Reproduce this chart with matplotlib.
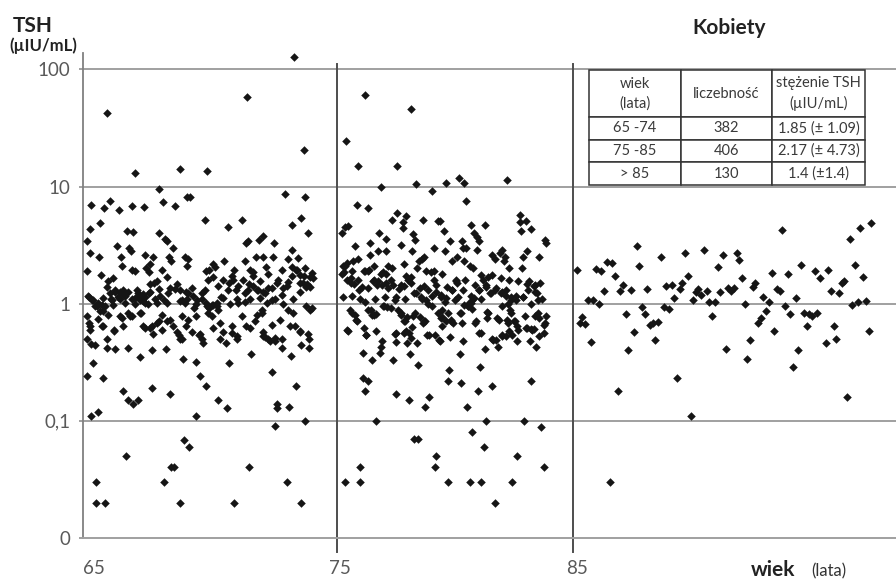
import matplotlib
matplotlib.use("Agg")
import matplotlib.pyplot as plt
from matplotlib.ticker import NullLocator, FixedLocator

plt.rcParams['font.family'] = ['Lato', 'DejaVu Sans']

# ---------------- data: group 65-74 ----------------
age_65_74 = [
    65.24, 71.20, 73.18, 73.60, 66.45, 68.35, 69.48,
    67.47, 64.56, 65.13, 65.38, 65.78, 66.30, 66.82, 67.61, 68.14, 68.63,
    68.77, 72.80, 73.63, 69.41, 70.99, 70.37, 73.08, 73.46, 73.76, 64.96,
    64.53, 64.42, 64.53, 64.92, 66.09, 66.37, 67.46, 67.71, 67.78, 65.69,
    66.20, 66.26, 66.86, 67.19, 67.10, 67.90, 68.07, 67.95, 65.83, 65.88,
    66.30, 66.44, 66.93, 67.05, 67.57, 67.81, 67.39, 68.56, 68.71, 68.66,
    69.44, 69.76, 69.83, 69.59, 70.23, 70.64, 71.13, 71.24, 71.71, 71.85,
    72.33, 73.11, 72.94, 72.66, 72.30, 71.85, 71.57, 71.10, 71.31, 71.45,
    71.99, 72.09, 73.08, 73.36, 73.26, 73.43, 73.64, 73.86, 74.00, 73.71,
    64.42, 64.99, 65.31, 65.52, 65.24, 65.59, 65.95, 66.16, 66.51, 66.79,
    66.86, 67.08, 67.46, 68.21, 68.35, 68.60, 68.84, 68.91, 69.41, 69.52,
    69.76, 69.97, 70.18, 70.40, 70.61, 70.82, 71.03, 71.24, 71.45, 71.67,
    71.88, 72.23, 72.51, 72.72, 72.94, 73.43, 73.57, 73.86, 64.46, 64.67,
    64.82, 65.03, 65.10, 65.41, 65.52, 65.80, 66.02, 66.30, 66.44, 66.62,
    66.79, 67.01, 67.29, 67.50, 67.78, 68.35, 68.63, 69.05, 69.27, 69.48,
    69.69, 69.90, 70.18, 70.47, 70.75, 71.10, 71.31, 71.74, 72.02, 72.37,
    72.72, 73.15, 73.71, 73.93,
    64.42, 64.53, 64.89, 65.10, 64.42, 64.60, 64.75, 65.24, 65.27, 65.56,
    65.59, 65.80, 65.95, 66.23, 66.16, 66.65, 66.77, 67.15, 67.19, 67.36,
    67.57, 67.75, 67.92, 68.07, 68.21, 68.35, 68.60, 68.70, 68.84, 69.05,
    69.22, 69.34, 69.55, 69.76, 69.90, 70.04, 70.18, 70.32, 70.54, 70.75,
    71.00, 71.17, 71.31, 71.60, 71.81, 71.88, 71.95, 72.16, 72.37, 72.23,
    72.58, 72.66, 73.01, 73.04, 73.15, 73.43, 73.50, 73.79, 73.83, 64.67,
    64.42, 65.07, 66.65, 67.15, 68.46, 69.05, 69.19, 69.45, 70.42, 71.38,
    72.23, 73.26, 65.92, 67.15, 67.92, 66.16, 66.58, 69.97,
    66.37, 70.35, 69.05, 64.59, 64.87, 72.46, 72.46, 72.98, 72.38, 73.66,
    66.06, 68.52, 68.73, 67.95, 68.09, 67.67, 71.28, 72.89, 64.79, 64.79,
    65.18, 68.36, 70.66, 73.49,
    64.48, 64.62, 64.76, 64.87, 64.97, 65.07, 65.18, 65.30, 65.40, 65.47,
    65.61, 65.72, 65.82, 65.96, 66.03, 66.14, 66.45, 66.57, 66.67, 66.77,
    66.88, 66.71, 67.02, 67.09, 67.23, 67.37, 67.47, 67.66, 67.84, 67.94,
    68.15, 68.43, 68.57, 68.71, 68.93, 69.07, 69.28, 69.45, 69.56, 69.77,
    69.96, 70.10, 70.41, 70.55, 70.72, 70.83, 71.09, 71.26, 71.43, 71.61,
    71.75, 71.94, 72.10, 72.25, 72.46, 72.67, 72.88, 73.09, 73.31, 73.45,
    73.59, 73.73, 73.94, 64.48, 64.55, 65.04, 65.54, 65.89, 66.88, 67.09,
    67.58, 67.80, 68.29, 68.43, 69.14, 69.28, 70.06, 70.55, 70.76, 71.54,
    71.89, 72.10, 72.39, 72.67, 73.23, 73.45, 73.80, 73.87, 72.95, 71.82,
    69.70, 68.43, 66.31,
]
tsh_65_74 = [
    42.8, 57.8, 128, 20.6, 13.0, 14.1, 13.7,
    9.6, 7.0, 6.5, 7.6, 6.3, 6.8, 6.7, 7.4, 6.8, 8.2,
    8.2, 8.6, 8.2, 5.2, 5.2, 4.5, 4.7, 5.4, 4.0, 4.9,
    4.3, 3.4, 2.7, 2.5, 4.2, 4.1, 4.0, 3.6, 3.4, 3.1,
    3.0, 2.8, 2.6, 2.5, 2.2, 2.5, 3.0, 2.3, 2.5, 2.1,
    1.95, 1.9, 2.0, 1.85, 1.95, 1.7, 1.55, 2.5, 2.4, 2.1,
    1.9, 2.2, 2.05, 1.95, 2.3, 1.95, 3.3, 3.4, 3.5, 3.8,
    3.3, 2.9, 2.4, 1.95, 2.5, 2.5, 2.5, 2.3, 1.95, 1.85,
    2.05, 1.8, 2.05, 2.45, 1.95, 1.75, 2.0, 1.7, 1.65, 1.4,
    1.9, 1.75, 1.55, 1.65, 1.4, 1.32, 1.32, 1.25, 1.32, 1.22,
    1.14, 1.25, 1.33, 1.46, 1.32, 1.25, 1.37, 1.16, 1.32, 1.6,
    1.7, 1.42, 1.6, 1.32, 1.6, 1.42, 1.6, 1.32, 1.42, 1.32,
    1.25, 1.37, 1.6, 1.37, 1.52, 1.25, 1.5, 1.4, 1.16, 1.08,
    0.95, 0.98, 0.86, 1.09, 0.97, 1.09, 1.16, 1.09, 1.0, 1.17,
    1.05, 1.0, 1.09, 1.16, 1.02, 1.05, 1.09, 1.0, 1.09, 0.95,
    0.98, 1.02, 1.12, 1.0, 1.09, 1.03, 1.09, 1.12, 1.02, 1.09,
    1.0, 1.09, 0.95, 0.92,
    0.78, 0.64, 0.74, 0.64, 0.50, 0.45, 0.44, 0.50, 0.42, 0.58,
    0.41, 0.78, 0.64, 0.78, 0.42, 0.84, 0.64, 0.64, 0.55, 0.68,
    0.60, 0.41, 0.72, 0.64, 0.57, 0.50, 0.64, 0.72, 0.57, 0.78,
    0.55, 0.46, 0.84, 0.62, 0.95, 0.68, 0.57, 0.46, 0.64, 0.53,
    0.78, 0.64, 0.62, 0.80, 0.84, 0.57, 0.52, 0.48, 0.48, 0.66,
    0.72, 0.42, 0.64, 0.36, 0.84, 0.57, 0.44, 0.55, 0.42, 0.31,
    0.24, 0.23, 0.35, 0.40, 0.34, 0.32, 0.24, 0.20, 0.31, 0.37,
    0.26, 0.20, 0.18, 0.19, 0.17, 0.15, 0.15, 0.15,
    0.139, 0.129, 0.11, 0.11, 0.12, 0.138, 0.129, 0.13, 0.090, 0.099,
    0.050, 0.069, 0.060, 0.040, 0.040, 0.030, 0.040, 0.030, 0.030, 0.020,
    0.020, 0.020, 0.020, 0.020,
    1.15, 1.08, 0.95, 1.01, 0.87, 1.12, 0.95, 0.80, 1.23, 1.08,
    1.27, 1.15, 1.27, 1.19, 1.01, 0.83, 1.12, 1.23, 1.08, 1.15,
    1.01, 0.83, 1.23, 1.46, 1.50, 1.01, 0.71, 1.08, 1.23, 1.36,
    1.33, 1.08, 1.01, 1.23, 0.92, 1.08, 1.23, 1.01, 0.92, 0.98,
    0.89, 1.15, 1.50, 1.71, 1.31, 1.01, 1.23, 1.46, 1.71, 1.31,
    1.55, 1.23, 1.36, 1.08, 1.50, 1.19, 1.41, 1.71, 1.95, 1.50,
    1.71, 1.46, 1.82, 0.69, 0.60, 0.64, 0.60, 0.76, 0.62, 0.62,
    0.80, 0.71, 0.54, 0.50, 0.54, 0.50, 0.50, 0.56, 0.50, 0.71,
    0.53, 0.50, 0.51, 0.50, 0.64, 0.58, 0.50, 0.89, 0.89, 0.89,
    0.78, 0.78, 0.78,
]

# ---------------- data: group 75-85 ----------------
age_75_85 = [
    76.18, 78.16, 75.38, 75.90, 77.57, 76.86, 78.34, 79.62, 80.18, 80.41, 82.21,
    79.02, 75.87, 76.33, 80.47, 77.55, 77.91, 77.35, 77.80, 78.65, 79.30,
    79.38, 80.68, 81.30, 82.76, 83.01, 82.76, 75.48, 75.34, 75.20, 77.82,
    79.54, 80.80, 82.80, 83.24, 76.78, 77.07, 78.21, 78.31, 80.92, 81.02,
    83.82, 83.85, 75.77, 76.42, 77.70, 79.79, 80.29, 80.34, 80.46, 79.10,
    81.98, 80.94, 83.07, 76.76, 77.07, 78.17, 76.42, 75.88, 75.70, 77.18,
    78.59, 78.71, 78.48, 79.58, 80.10, 79.89, 80.39, 80.63, 81.59, 81.71,
    81.91, 82.12, 82.10, 82.29, 82.90, 83.56, 75.34, 75.63, 76.19, 76.33,
    76.59, 76.87, 77.07, 77.32, 77.86, 78.14, 78.38, 78.76, 79.11, 79.44,
    79.10, 80.03, 80.09, 80.43, 80.75, 81.13, 81.20, 81.42, 81.56, 81.95,
    82.29, 82.69, 82.83, 83.14, 83.39, 83.62, 75.20, 75.41, 75.58, 75.91,
    76.05, 76.30, 76.54, 76.76, 76.90, 77.18, 77.39, 77.63, 77.86, 78.03,
    78.28, 78.52, 78.71, 78.87, 79.02, 79.21, 79.41, 79.65, 79.89, 80.15,
    80.36, 80.68, 80.85, 81.02, 81.32, 81.49, 81.70, 81.98, 82.15, 82.38,
    82.58, 82.90, 83.11, 83.39, 83.68, 83.54, 75.27, 75.63, 75.98, 76.19,
    76.61, 77.04, 77.46, 77.89, 78.59, 78.87, 79.58, 80.00, 80.57, 80.74,
    81.13, 82.26, 83.22,
    75.56, 75.77, 75.84, 76.33, 76.50, 76.68, 76.97, 77.11, 77.60, 77.74,
    77.89, 77.96, 78.31, 78.52, 78.73, 78.20, 78.06, 77.86, 77.46, 79.02,
    79.44, 79.47, 79.72, 79.83, 79.93, 79.44, 79.16, 80.22, 80.29, 80.57,
    80.71, 80.85, 81.02, 81.42, 81.35, 81.80, 81.98, 82.33, 82.38, 82.26,
    82.55, 82.62, 82.41, 82.19, 81.98, 81.75, 81.63, 81.84, 82.62, 82.97,
    83.04, 83.25, 83.37, 83.39, 83.54, 83.82, 83.85, 83.56, 83.79, 83.18,
    83.42, 75.48, 76.16, 76.22, 76.68, 76.90, 76.87, 76.83, 77.49, 77.96,
    78.38, 78.66, 78.80, 79.38, 79.79, 80.36, 81.28, 80.22, 76.12, 76.47,
    77.39, 78.10, 78.45, 79.76, 81.08, 76.12, 76.33, 79.72, 80.26, 81.56,
    83.25,
    76.20, 77.50, 78.05, 78.91, 78.74, 80.52, 80.99, 76.64, 81.32, 82.92,
    83.67, 80.73, 78.26, 78.46, 81.24, 79.22, 82.65, 75.97, 79.16, 83.80,
    75.35, 75.96, 79.71, 80.66, 81.13, 82.44, 81.72,
    75.24, 75.45, 75.31, 75.59, 75.73, 75.95, 76.16, 76.37, 76.58, 76.72,
    76.94, 77.08, 77.29, 77.50, 77.71, 77.92, 78.14, 78.35, 78.56, 78.77,
    78.98, 79.19, 79.41, 79.62, 79.90, 80.04, 80.40, 80.54, 80.68, 80.82,
    81.03, 81.31, 81.53, 81.74, 81.95, 82.16, 82.37, 82.58, 82.87, 83.08,
    83.36, 83.50, 75.66, 75.80, 76.44, 76.58, 77.01, 77.29, 77.71, 77.85,
    78.21, 78.70, 79.27, 79.41, 79.62, 79.83, 80.25, 80.89, 81.38, 81.88,
    82.23, 82.51, 82.30, 82.66, 83.01, 83.29, 83.57, 83.78, 77.92, 78.14,
    77.50, 78.91, 79.34, 81.10, 81.59, 82.02, 75.45, 76.23,
]
tsh_75_85 = [
    60.5, 45.7, 24.5, 15.1, 15.0, 10.0, 10.5, 10.7, 11.8, 10.8, 11.4,
    9.2, 7.0, 6.5, 7.6, 6.0, 5.6, 5.2, 5.0, 5.2, 5.1,
    5.1, 4.7, 4.7, 5.7, 5.1, 5.0, 4.6, 4.5, 4.0, 4.4,
    4.2, 4.0, 4.2, 4.3, 4.0, 3.6, 3.9, 3.5, 3.7, 3.4,
    3.5, 3.3, 3.1, 3.3, 3.2, 3.4, 3.4, 3.0, 3.0, 3.0,
    2.9, 2.9, 2.8, 2.8, 2.8, 2.8, 2.6, 2.4, 2.3, 2.1,
    2.4, 2.5, 2.3, 2.8, 2.5, 2.3, 2.3, 2.1, 2.6, 2.4,
    2.7, 2.5, 2.3, 2.0, 2.5, 2.5, 2.1, 1.9, 1.9, 1.9,
    2.1, 1.8, 1.8, 2.0, 2.2, 1.7, 2.0, 1.9, 1.9, 1.8,
    1.6, 1.6, 1.5, 1.6, 2.0, 1.75, 1.6, 1.7, 1.75, 1.65,
    1.6, 1.55, 2.0, 1.55, 1.45, 1.5, 1.8, 1.6, 1.5, 1.6,
    1.4, 1.35, 1.55, 1.55, 1.45, 1.35, 1.45, 1.33, 1.42, 1.6,
    1.23, 1.35, 1.42, 1.32, 1.17, 1.27, 1.15, 1.4, 1.32, 1.15,
    1.32, 1.17, 1.45, 1.32, 1.4, 1.23, 1.32, 1.27, 1.17, 1.08,
    1.17, 1.15, 1.32, 1.27, 1.1, 1.08, 1.15, 1.17, 1.1, 1.03,
    1.1, 1.13, 1.08, 1.1, 1.09, 1.0, 1.03, 1.08, 1.0, 1.08,
    1.09, 1.0, 1.0,
    0.89, 0.80, 0.71, 0.89, 0.80, 0.82, 0.95, 0.94, 0.89, 0.80,
    0.71, 0.77, 0.84, 0.77, 0.71, 0.63, 0.56, 0.56, 0.55, 0.95,
    0.89, 0.77, 0.84, 0.73, 0.68, 0.65, 0.54, 0.83, 0.68, 0.95,
    0.90, 0.69, 0.56, 0.84, 0.76, 0.75, 0.95, 0.89, 0.83, 0.69,
    0.71, 0.64, 0.54, 0.53, 0.53, 0.49, 0.49, 0.43, 0.48, 0.78,
    0.62, 0.61, 0.61, 0.78, 0.84, 0.68, 0.78, 0.53, 0.56, 0.48,
    0.43, 0.59, 0.62, 0.54, 0.59, 0.48, 0.43, 0.38, 0.47, 0.46,
    0.46, 0.68, 0.54, 0.48, 0.52, 0.48, 0.41, 0.37, 0.38, 0.33,
    0.33, 0.37, 0.30, 0.27, 0.29, 0.23, 0.22, 0.22, 0.21, 0.20,
    0.22,
    0.18, 0.169, 0.150, 0.159, 0.130, 0.130, 0.179, 0.099, 0.099, 0.099,
    0.089, 0.080, 0.070, 0.070, 0.060, 0.050, 0.050, 0.040, 0.040, 0.040,
    0.030, 0.030, 0.030, 0.030, 0.030, 0.030, 0.020,
    2.08, 2.22, 1.85, 1.66, 1.48, 1.31, 1.91, 1.95, 1.60, 1.43,
    1.85, 1.50, 1.60, 1.15, 1.43, 1.71, 1.50, 1.23, 1.15, 1.08,
    1.85, 1.43, 1.19, 1.12, 1.31, 1.55, 0.98, 0.95, 1.01, 1.12,
    1.31, 1.43, 1.23, 1.36, 1.23, 1.31, 1.15, 1.08, 1.15, 1.46,
    1.41, 1.23, 0.83, 0.73, 0.89, 0.80, 0.95, 0.92, 0.83, 0.71,
    0.78, 0.71, 0.83, 0.75, 0.71, 0.71, 0.83, 0.71, 0.85, 0.73,
    0.73, 0.71, 0.58, 0.60, 0.62, 0.60, 0.75, 0.66, 0.58, 0.51,
    0.56, 0.54, 0.49, 0.56, 0.50, 0.54, 0.60, 0.54,
]

# ---------------- data: group >85 ----------------
age_over_85 = [
    85.18, 85.30, 85.41, 85.52, 85.65, 85.76, 85.86, 85.97, 86.12, 86.21,
    86.33, 86.44, 86.67, 86.79, 86.92, 87.02, 87.13, 87.25, 87.36, 87.47,
    87.60, 87.71, 87.81, 87.92, 88.05, 88.16, 88.26, 88.38, 88.50, 88.62,
    88.73, 88.86, 88.97, 89.08, 89.20, 89.31, 89.42, 89.53, 89.65, 89.76,
    89.89, 90.10, 90.21, 90.32, 90.45, 90.57, 90.68, 90.79, 90.92, 91.03,
    91.14, 91.26, 91.37, 91.48, 91.60, 91.71, 91.82, 91.94, 92.06, 92.18,
    92.29, 92.40, 92.51, 92.63, 92.74, 92.85, 92.97, 93.08, 93.21, 93.32,
    93.43, 93.55, 93.66, 93.77, 93.88, 94.00, 94.11, 94.22, 94.34, 94.45,
    94.56, 94.68, 94.80, 94.92, 95.03, 95.14, 95.26, 95.37, 95.48, 95.72,
    95.83, 95.95, 96.06, 96.17, 96.29, 96.40, 96.51, 96.62, 96.74, 96.85,
    96.96, 97.08, 97.19, 97.30, 97.43, 97.54, 97.66, 86.57, 90.00,
]
tsh_over_85 = [
    1.95, 0.69, 0.77, 0.67, 1.08, 0.47, 1.07, 1.97, 0.99, 1.89,
    1.29, 2.28, 2.23, 1.73, 0.18, 1.29, 1.44, 0.82, 0.40, 1.30,
    0.57, 3.08, 2.10, 0.93, 0.81, 1.34, 0.66, 0.69, 0.49, 0.70,
    2.48, 0.93, 1.42, 0.90, 1.44, 1.12, 0.23, 1.34, 1.49, 2.72,
    1.73, 1.08, 1.25, 1.34, 1.18, 2.87, 1.29, 1.03, 0.79, 1.03,
    2.07, 1.25, 2.58, 0.41, 1.35, 1.29, 1.35, 2.72, 2.37, 1.65,
    0.99, 0.34, 0.49, 1.38, 1.50, 0.68, 0.76, 1.13, 0.87, 1.04,
    1.84, 0.58, 1.34, 1.29, 4.22, 0.95, 1.80, 0.82, 0.29, 1.11,
    0.40, 2.15, 0.84, 0.65, 0.82, 0.78, 1.91, 0.84, 1.67, 0.46,
    1.94, 1.29, 0.65, 0.50, 1.23, 1.49, 1.57, 0.16, 3.60, 0.97,
    2.15, 1.04, 4.44, 1.70, 1.05, 0.58, 4.88, 0.030, 0.109,
]

# table contents
table_header = ['wiek\n(lata)', 'liczebność', 'stężenie TSH\n(µIU/mL)']
table_rows = [
    ['65 -74', '382', '1.85 (± 1.09)'],
    ['75 -85', '406', '2.17 (± 4.73)'],
    ['> 85', '130', '1.4 (±1.4)'],
]
y_ticks = [0.01, 0.1, 1, 10, 100]
y_tick_labels = ['0', '0,1', '1', '10', '100']
x_tick_labels = ['65', '75', '85']
group_bounds = [75, 85]

assert len(age_65_74) == len(tsh_65_74)
assert len(age_75_85) == len(tsh_75_85)
assert len(age_over_85) == len(tsh_over_85)

W, H = 896, 580
fig = plt.figure(figsize=(W / 100, H / 100), dpi=100)
ax_l, ax_b, ax_t = 83, 538, 53
ax = fig.add_axes([ax_l / W, (H - ax_b) / H, (W - ax_l) / W, (ax_b - ax_t) / H])

ax.set_yscale('log')
ax.set_ylim(0.01, 138)
ax.set_xlim(64.24, 98.7)

grid_c = '#a0a0a0'
for yv in y_ticks[1:]:
    ax.axhline(yv, color=grid_c, lw=1.4, zorder=1)
for xv in group_bounds:
    ax.axvline(xv, ymin=-0.029, ymax=0.977, clip_on=False, color='#4d4d4d', lw=1.4, zorder=2)

pt_c = '#151515'
for a, t in [(age_65_74, tsh_65_74), (age_75_85, tsh_75_85), (age_over_85, tsh_over_85)]:
    ax.scatter(a, t, marker='D', s=19, color=pt_c, linewidths=0, zorder=3)

for s in ['top', 'right']:
    ax.spines[s].set_visible(False)
ax.spines['left'].set_color('#808080')
ax.spines['left'].set_linewidth(1.3)
ax.spines['bottom'].set_color(grid_c)
ax.spines['bottom'].set_linewidth(1.4)

ax.yaxis.set_major_locator(FixedLocator(y_ticks))
ax.yaxis.set_minor_locator(NullLocator())
ax.set_yticklabels(y_tick_labels)
ax.tick_params(axis='y', length=3, width=1.4, color=grid_c, pad=6,
               labelsize=13.5, labelcolor='#595959')

ax.set_xticks([64.72, 75.15, 85.19])
ax.set_xticklabels(x_tick_labels)
ax.tick_params(axis='x', length=0, pad=16, labelsize=13.5, labelcolor='#595959')

# table
tbl = ax.table(cellText=table_rows, colLabels=table_header, cellLoc='center',
               bbox=[(589 - ax_l) / (W - ax_l), (ax_b - 185) / (ax_b - ax_t),
                     276 / (W - ax_l), 115 / (ax_b - ax_t)],
               colWidths=[92, 91, 93], zorder=5)
tbl.auto_set_font_size(False)
tbl.set_fontsize(10.5)
heights = [47, 23, 22, 23]
for (r, c), cell in tbl.get_celld().items():
    cell.set_height(heights[r])
    cell.set_edgecolor('#333333')
    cell.set_linewidth(1.1)
    cell.set_facecolor('white')
    txt = cell.get_text()
    txt.set_fontsize(10.5)
    txt.set_color('#3a3a3a')
    txt.set_linespacing(1.45)

# titles
fig.text(13 / W, 1 - 32 / H, 'TSH', fontsize=15, fontweight='bold', color='#222222', va='baseline')
fig.text(9 / W, 1 - 51 / H, '(µIU/mL)', fontsize=12, fontweight='bold', color='#222222', va='baseline')
fig.text(729 / W, 1 - 28 / H, 'Kobiety', fontsize=15, fontweight='bold', color='#222222',
         ha='center', va='center')
fig.text(751 / W, 1 - 576 / H, 'wiek', fontsize=15, fontweight='bold', color='#222222', va='baseline')
fig.text(811 / W, 1 - 576 / H, '(lata)', fontsize=12, color='#333333', va='baseline')

fig.savefig('out.png', dpi=100)
